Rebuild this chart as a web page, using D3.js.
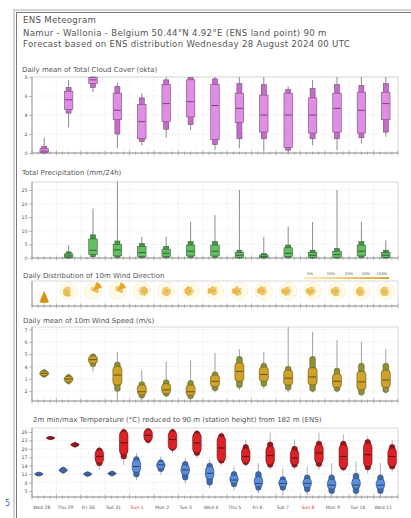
<!DOCTYPE html>
<html><head><meta charset="utf-8">
<script src="https://cdn.jsdelivr.net/npm/d3@7"></script>
<style>body{margin:0;background:#fff}svg{display:block;font-family:"DejaVu Sans",sans-serif}</style>
</head><body><svg id="c" width="411" height="518"></svg>
<script>
// ---------- DATA ----------
const days = ["Wed 28","Thu 29","Fri 30","Sat 31","Sun 1","Mon 2","Tue 3","Wed 4","Thu 5","Fri 6","Sat 7","Sun 8","Mon 9","Tue 10","Wed 11"];
const headerLines = ["ENS Meteogram","Namur - Wallonia - Belgium 50.44°N 4.92°E (ENS land point) 90 m","Forecast based on ENS distribution Wednesday 28 August 2024 00 UTC"];

// Total cloud cover (okta): min, p10, p25, median, p75, p90, max
const cloudMin = [0,2.7,6.4,0.5,0.8,1.6,2.4,0.3,0.5,0.2,0,0.8,0.3,1.0,1.7];
const cloudP10 = [0,4.2,6.9,2.0,1.2,2.5,3.0,0.9,1.5,1.5,0.3,1.5,1.5,1.6,2.2];
const cloudP25 = [0.05,4.6,7.3,3.5,1.5,3.3,3.8,1.4,3.2,2.2,0.6,2.1,2.2,2.1,3.5];
const cloudMed = [0.2,5.6,7.7,4.5,3.3,5.2,5.4,5.0,4.7,4.0,4.0,4.0,4.7,4.5,5.2];
const cloudP75 = [0.45,6.5,7.95,6.3,5.1,7.2,7.7,7.2,6.3,6.1,6.3,5.8,6.3,6.4,6.4];
const cloudP90 = [0.7,6.9,8,7.0,5.8,7.7,7.95,7.8,7.3,7.2,6.7,6.8,7.2,7.1,7.3];
const cloudMax = [1.6,7.7,8,7.4,6.3,8,8,8,8,8,7.0,7.7,8,8,8];
const cloudTicks = [0,2,4,6,8];

// Total precipitation (mm/24h)
const precMin = [0,0,0,0,0,0,0,0,0,0,0,0,0,0,0];
const precP10 = [0,0,0.5,0.25,0.1,0.1,0.25,0.25,0,0,0.1,0,0,0.25,0];
const precP25 = [0,0.25,1.25,0.75,0.5,0.5,0.75,0.75,0.25,0.1,0.5,0.25,0.25,0.75,0.25];
const precMed = [0,0.75,2.85,3.0,2.0,1.75,2.5,2.5,1.0,0.5,1.75,1.0,1.25,2.5,1.0];
const precP75 = [0,1.5,7.0,5.0,4.25,3.25,4.75,4.75,2.0,1.1,3.75,2.0,2.5,4.75,2.0];
const precP90 = [0,2.25,8.5,6.25,5.3,4.25,6.0,6.0,2.85,1.6,4.75,2.85,3.45,6.0,2.85];
const precMax = [0,4.7,18.2,28.1,7.8,7.8,13.3,15.8,25.0,7.8,11.5,13.3,25.0,13.3,6.5];
const precTicks = [0,5,10,15,20,25];

// Wind direction frequency (%) per day for N, NE, E, SE, S, SW, W, NW
const windDirs = ["N","NE","E","SE","S","SW","W","NW"];
const windDirFreq = [
  [0,0,0,0,100,0,0,0],
  [10,5,0,5,20,25,20,15],
  [10,65,20,0,0,0,0,5],
  [15,60,20,0,0,0,0,5],
  [10,20,25,20,10,5,5,5],
  [10,10,15,15,15,15,10,10],
  [10,5,5,5,10,20,25,20],
  [10,5,0,5,10,15,35,20],
  [5,5,0,5,10,20,35,20],
  [10,5,5,5,10,15,30,20],
  [10,5,5,5,10,20,30,15],
  [10,5,5,5,10,20,30,15],
  [10,5,5,5,15,20,25,15],
  [10,5,5,10,15,20,20,15],
  [10,5,5,10,15,20,20,15]
];
const windLegend = ["5%","10%","25%","50%","100%"];

// 10m wind speed (m/s)
const wsMin = [3.05,2.5,3.6,1.27,1.3,1.5,1.25,1.9,2.1,2.2,1.9,1.9,1.9,1.6,1.8];
const wsP10 = [3.15,2.62,4.0,2.0,1.45,1.6,1.4,2.05,2.3,2.4,2.1,2.0,2.0,1.7,1.9];
const wsP25 = [3.25,2.75,4.25,2.5,1.7,1.8,1.65,2.35,2.8,2.8,2.5,2.5,2.3,2.1,2.3];
const wsMed = [3.44,2.98,4.55,3.3,1.95,2.1,1.95,2.8,3.6,3.35,3.05,3.15,2.8,2.75,2.9];
const wsP75 = [3.62,3.2,4.85,4.0,2.5,2.6,2.5,3.3,4.3,3.95,3.7,3.9,3.4,3.6,3.7];
const wsP90 = [3.72,3.32,5.0,4.35,2.75,2.9,2.85,3.55,4.8,4.25,4.0,4.8,3.85,4.25,4.25];
const wsMax = [3.82,3.44,5.1,5.2,3.7,4.4,4.5,5.1,5.4,5.2,7.2,6.8,6.15,6.0,5.4];
const wsTicks = [2,3,4,5,6,7];

// 2m min temperature (°C)
const tnMin = [10.1,11.0,9.9,10.1,8.9,10.7,7.7,5.9,5.3,4.1,3.5,3.5,2.9,2.9,2.9];
const tnP10 = [10.3,11.4,10.2,10.4,10.0,11.9,8.9,7.1,6.5,5.3,5.3,4.7,4.1,4.1,4.1];
const tnP25 = [10.5,11.8,10.5,10.7,11.6,12.8,10.7,9.2,7.7,6.5,6.5,6.2,5.6,5.9,5.6];
const tnMed = [11.0,12.4,11.0,11.2,13.7,14.3,12.5,11.3,8.9,7.7,7.7,7.7,7.1,7.1,7.1];
const tnP75 = [11.5,13.0,11.5,11.7,16.1,15.5,14.3,13.7,10.7,10.1,9.2,9.5,9.2,9.5,9.2];
const tnP90 = [11.7,13.4,11.8,12.0,17.2,16.1,15.5,14.9,11.9,11.9,10.1,10.7,10.7,11.3,10.7];
const tnMax = [11.9,13.8,12.1,12.3,18.5,17.2,16.7,16.1,13.7,14.9,13.1,13.7,14.9,15.5,14.9];
// 2m max temperature (°C)
const txMin = [23.1,20.3,12.5,14.3,21.5,18.5,16.7,14.3,13.7,12.5,12.5,12.5,11.9,11.3,11.9];
const txP10 = [23.3,20.6,14.0,16.4,22.2,19.4,17.6,14.9,14.3,13.4,13.4,13.7,12.5,12.5,12.8];
const txP25 = [23.45,20.9,14.9,17.9,22.7,19.7,18.5,15.5,14.9,14.3,14.3,14.9,13.1,13.7,13.7];
const txMed = [23.84,21.4,17.3,22.1,24.8,23.3,22.1,20.3,17.3,17.6,16.7,18.5,17.3,17.9,17.3];
const txP75 = [24.25,21.95,19.7,26.3,26.9,26.3,25.7,24.5,20.3,20.9,19.7,21.5,21.5,22.1,20.3];
const txP90 = [24.4,22.25,20.3,26.9,27.2,26.9,26.3,25.4,21.5,22.4,20.9,22.7,22.7,23.3,21.5];
const txMax = [24.6,22.7,20.9,27.4,27.4,27.4,26.9,26.0,23.3,25.7,23.3,25.7,25.1,24.5,23.0];
const tTicks = [5,8,11,14,17,20,23,26];

// ---------- DRAW ----------
const svg = d3.select("#c");
svg.append("rect").attr("width",411).attr("height",518).attr("fill","#fff");
svg.append("rect").attr("x",14).attr("y",10).attr("width",440).attr("height",540)
  .attr("fill","none").attr("stroke","#d4d4d4").attr("stroke-width",2);
svg.append("rect").attr("x",16.5).attr("y",12.5).attr("width",440).attr("height",540)
  .attr("fill","none").attr("stroke","#7a7a7a").attr("stroke-width",1);
svg.append("text").attr("x",5).attr("y",506).attr("font-size",8).attr("fill","#3a66c4").text("5");

headerLines.forEach((t,i)=>{
  svg.append("text").attr("x",23).attr("y",[23,35.5,47][i]).attr("font-size",8.6)
    .attr("letter-spacing",0.3).attr("fill","#555").text(t);
});

const x = d3.scaleLinear().domain([0,15]).range([32,398]);
const X0 = 32, X1 = 398;

function frame(top, bottom, title, titleY, titleX, yScale, ticks, fmt) {
  const g = svg.append("g");
  g.append("text").attr("x",titleX).attr("y",titleY).attr("font-size",7).attr("fill","#555").text(title);
  if (ticks) {
    ticks.forEach(v=>{
      g.append("line").attr("x1",X0).attr("x2",X1).attr("y1",yScale(v)).attr("y2",yScale(v))
        .attr("stroke","#d6d6d6").attr("stroke-width",0.6).attr("stroke-dasharray","1,1.5");
    });
  }
  d3.range(1,15).forEach(d=>{
    g.append("line").attr("x1",x(d)).attr("x2",x(d)).attr("y1",top).attr("y2",bottom)
      .attr("stroke","#dadada").attr("stroke-width",0.6).attr("stroke-dasharray","1,1.5");
  });
  g.append("rect").attr("x",X0).attr("y",top).attr("width",X1-X0).attr("height",bottom-top)
    .attr("fill","none").attr("stroke","#c8c8c8").attr("stroke-width",0.7);
  g.append("line").attr("x1",X0).attr("x2",X0).attr("y1",top).attr("y2",bottom).attr("stroke","#8a8a8a").attr("stroke-width",0.8);
  g.append("line").attr("x1",X0).attr("x2",X1).attr("y1",bottom).attr("y2",bottom).attr("stroke","#8a8a8a").attr("stroke-width",0.8);
  d3.range(0,61).forEach(k=>{
    const xx = x(k/4);
    const major = k%4===0;
    g.append("line").attr("x1",xx).attr("x2",xx).attr("y1",bottom-(major?2.5:1.5)).attr("y2",bottom+(major?2.5:1.8))
      .attr("stroke","#8a8a8a").attr("stroke-width",0.6);
  });
  if (ticks) {
    const ax = g.append("g").attr("transform",`translate(${X0},0)`)
      .call(d3.axisLeft(yScale).tickValues(ticks).tickSize(3).tickPadding(1.5).tickFormat(fmt||d3.format("")));
    ax.select(".domain").remove();
    ax.selectAll("line").attr("stroke","#8a8a8a").attr("stroke-width",0.6);
    ax.selectAll("text").attr("font-size",4.8).attr("fill","#555").attr("font-family","DejaVu Sans");
  }
  return g;
}

function boxes(g, xpos, y, s, o) {
  const [mn,p10,p25,md,p75,p90,mx] = s;
  days.forEach((d,i)=>{
    const cx = xpos(i);
    if (mx[i] - mn[i] <= 0) return;
    g.append("line").attr("x1",cx).attr("x2",cx).attr("y1",y(mx[i])).attr("y2",y(mn[i]))
      .attr("stroke",o.wh).attr("stroke-width",1);
    const nw=o.nw, ww=o.ww;
    g.append("rect").attr("x",cx-nw/2).attr("width",nw)
      .attr("y",y(p90[i])).attr("height",Math.max(0.8,y(p10[i])-y(p90[i])))
      .attr("rx",o.rx2||0).attr("fill",o.c2).attr("stroke",o.edge).attr("stroke-width",0.6);
    g.append("rect").attr("x",cx-ww/2).attr("width",ww)
      .attr("y",y(p75[i])).attr("height",Math.max(0.8,y(p25[i])-y(p75[i])))
      .attr("rx",o.rx||0).attr("fill",o.c1).attr("stroke",o.edge).attr("stroke-width",0.6);
    g.append("line").attr("x1",cx-ww/2+0.8).attr("x2",cx+ww/2-0.8).attr("y1",y(md[i])).attr("y2",y(md[i]))
      .attr("stroke",o.med).attr("stroke-width",0.8);
  });
}

// Cloud cover
const yCloud = d3.scaleLinear().domain([0,8]).range([153,77]);
const gC = frame(77,153,"Daily mean of Total Cloud Cover (okta)",72,22,yCloud,cloudTicks);
boxes(gC, i=>x(i+0.5), yCloud, [cloudMin,cloudP10,cloudP25,cloudMed,cloudP75,cloudP90,cloudMax],
  {wh:"#8c8c8c", nw:5, ww:8.5, c1:"#df8ee3", c2:"#c46cc8", edge:"#7a4a7a", med:"#5a2e5a"});

// Precipitation
const yPrec = d3.scaleLinear().domain([0,25*(258-182)/(258-190)]).range([258,182]);
const gP = frame(182,258,"Total Precipitation (mm/24h)",175,22,yPrec,precTicks);
boxes(gP, i=>x(i+0.5), yPrec, [precMin,precP10,precP25,precMed,precP75,precP90,precMax],
  {wh:"#8c8c8c", nw:5, ww:8.5, c1:"#62c062", c2:"#3f9a3f", edge:"#3d5a3d", med:"#2e402e"});

// Wind direction
const gD = frame(281,306,"Daily Distribution of 10m Wind Direction",277.5,23,null,null);
const colD = d3.scaleLinear().domain([0,20,100]).range(["#fbe9ad","#f0c24c","#d98f00"]);
const arc = d3.arc();
windDirFreq.forEach((fr,i)=>{
  const cx = x(i+0.5), cy = 291;
  const rg = gD.append("g").attr("transform",`translate(${cx},${cy})`);
  if (i>0) {
    rg.append("circle").attr("r",8.5).attr("fill","#fffbe8").attr("stroke","#e2cc88").attr("stroke-width",0.5).attr("stroke-dasharray","1,1");
    rg.append("circle").attr("r",4.3).attr("fill","none").attr("stroke","#e2cc88").attr("stroke-width",0.4).attr("stroke-dasharray","1,1");
  }
  fr.forEach((f,k)=>{
    if (f<=0) return;
    const a = k*Math.PI/4;
    rg.append("path").attr("d",arc({innerRadius:0,outerRadius:12*Math.sqrt(f/100),startAngle:a-Math.PI/8,endAngle:a+Math.PI/8}))
      .attr("fill",colD(f)).attr("stroke","#cfa040").attr("stroke-width",0.3);
  });
});
const lgx = [310,331,349,366,382];
const grad = svg.append("defs").append("linearGradient").attr("id","lg");
grad.append("stop").attr("offset","0%").attr("stop-color","#fbe9ad");
grad.append("stop").attr("offset","100%").attr("stop-color","#d98f00");
windLegend.forEach((t,i)=>{
  gD.append("text").attr("x",lgx[i]).attr("y",275).attr("text-anchor","middle").attr("font-size",3.8).attr("fill","#555").text(t);
});
gD.append("rect").attr("x",304).attr("y",277.3).attr("width",85).attr("height",1.6).attr("fill","url(#lg)");

// Wind speed
const yWs = d3.scaleLinear().domain([1.2,7.2]).range([401,327]);
const gW = frame(327,401,"Daily mean of 10m Wind Speed (m/s)",322.5,23,yWs,wsTicks);
boxes(gW, i=>x(i+0.5), yWs, [wsMin,wsP10,wsP25,wsMed,wsP75,wsP90,wsMax],
  {wh:"#a0a0a0", nw:5.5, ww:9, c1:"#cfa22a", c2:"#8f9230", edge:"#5e5420", med:"#4a3e10", rx:3, rx2:2});

// Temperature
const yT = d3.scaleLinear().domain([2.86,27.4]).range([497,428]);
const gT = frame(428,497,"2m min/max Temperature (°C) reduced to 90 m (station height) from 182 m (ENS)",422,33,yT,tTicks);
boxes(gT, i=>x(i+0.28), yT, [tnMin,tnP10,tnP25,tnMed,tnP75,tnP90,tnMax],
  {wh:"#b0b0b0", nw:5.5, ww:8.5, c1:"#5b8fdc", c2:"#3c68b8", edge:"#2b3f66", med:"#1e2e55", rx:4, rx2:2.5});
boxes(gT, i=>x(i+0.76), yT, [txMin,txP10,txP25,txMed,txP75,txP90,txMax],
  {wh:"#b0b0b0", nw:5.5, ww:8.5, c1:"#dc2226", c2:"#a81216", edge:"#5a1414", med:"#400808", rx:4, rx2:2.5});

days.forEach((d,i)=>{
  svg.append("text").attr("x",x(i)+1).attr("y",509).attr("font-size",4.6)
    .attr("fill", d.startsWith("Sun") ? "#e03030" : "#555").text(d);
});
</script></body></html>
